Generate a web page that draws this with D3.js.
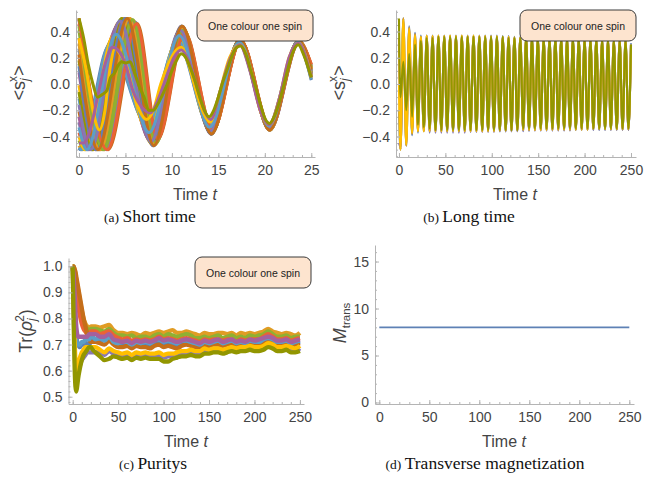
<!DOCTYPE html>
<html><head><meta charset="utf-8">
<script src="https://cdn.jsdelivr.net/npm/d3@7/dist/d3.min.js"></script>
<style>body{margin:0;background:#fff;} svg{display:block;}</style>
</head><body>
<svg id="chart" width="646" height="477"></svg>
<script>
// ---------- Panel (a): short time, turning points [t, <s_j^x>] per spin ----------
const shortSpin0  = [[0,-0.49],[0.15,-0.5],[3.3,0.30],[7.3,-0.30],[10.6,0.32],[14.0,-0.31],[17.2,0.31],[20.4,-0.31],[23.5,0.31],[25,0.03]];
const shortSpin1  = [[0,-0.47],[0.35,-0.5],[3.5,0.33],[7.4,-0.33],[10.7,0.34],[14.0,-0.32],[17.2,0.31],[20.4,-0.32],[23.55,0.31],[25,0.04]];
const shortSpin2  = [[0,-0.43],[0.55,-0.5],[3.7,0.36],[7.5,-0.36],[10.7,0.36],[14.05,-0.33],[17.2,0.32],[20.45,-0.32],[23.55,0.32],[25,0.05]];
const shortSpin3  = [[0,-0.37],[0.75,-0.5],[3.9,0.40],[7.55,-0.39],[10.8,0.38],[14.05,-0.34],[17.25,0.32],[20.45,-0.33],[23.55,0.32],[25,0.06]];
const shortSpin4  = [[0,-0.29],[0.95,-0.5],[4.1,0.44],[7.6,-0.42],[10.8,0.40],[14.1,-0.35],[17.25,0.33],[20.45,-0.33],[23.6,0.32],[25,0.07]];
const shortSpin5  = [[0,-0.21],[1.15,-0.5],[4.3,0.47],[7.7,-0.44],[10.9,0.41],[14.1,-0.36],[17.25,0.33],[20.5,-0.34],[23.6,0.33],[25,0.08]];
const shortSpin6  = [[0,-0.11],[1.35,-0.5],[4.5,0.49],[7.8,-0.45],[10.9,0.42],[14.15,-0.37],[17.3,0.33],[20.5,-0.34],[23.6,0.33],[25,0.09]];
const shortSpin7  = [[0,-0.01],[1.55,-0.5],[4.7,0.5],[7.85,-0.46],[11.0,0.43],[14.2,-0.37],[17.3,0.34],[20.5,-0.35],[23.6,0.33],[25,0.09]];
const shortSpin8  = [[0,0.09],[1.75,-0.5],[4.9,0.5],[7.95,-0.47],[11.0,0.44],[14.2,-0.38],[17.3,0.34],[20.5,-0.35],[23.6,0.33],[25,0.1]];
const shortSpin9  = [[0,0.18],[1.95,-0.5],[5.1,0.5],[8.0,-0.47],[11.05,0.44],[14.25,-0.38],[17.35,0.34],[20.55,-0.35],[23.65,0.33],[25,0.11]];
const shortSpin10 = [[0,0.27],[2.15,-0.5],[5.3,0.5],[8.1,-0.47],[11.1,0.44],[14.25,-0.38],[17.35,0.34],[20.55,-0.35],[23.65,0.33],[25,0.12]];
const shortSpin11 = [[0,0.35],[2.35,-0.5],[5.5,0.5],[8.2,-0.46],[11.15,0.43],[14.3,-0.37],[17.35,0.34],[20.55,-0.35],[23.65,0.33],[25,0.12]];
const shortSpin12 = [[0,0.41],[2.55,-0.5],[5.7,0.49],[8.25,-0.45],[11.2,0.42],[14.3,-0.37],[17.4,0.33],[20.55,-0.34],[23.65,0.33],[25,0.13]];
const shortSpin13 = [[0,0.46],[2.75,-0.5],[5.9,0.48],[8.35,-0.44],[11.25,0.41],[14.35,-0.36],[17.4,0.33],[20.6,-0.34],[23.7,0.33],[25,0.14]];
const shortSpin14 = [[0,0.49],[2.95,-0.5],[6.1,0.47],[8.4,-0.43],[11.3,0.40],[14.35,-0.35],[17.4,0.33],[20.6,-0.34],[23.7,0.32],[25,0.14]];
const shortSpin15 = [[0,0.5],[3.15,-0.5],[6.3,0.46],[8.5,-0.42],[11.4,0.39],[14.4,-0.35],[17.42,0.33],[20.6,-0.33],[23.7,0.32],[25,0.15]];
const shortSpin16 = [[0,-0.485],[0.25,-0.5],[3.4,0.31],[7.34,-0.31],[10.65,0.33],[13.99,-0.31],[17.19,0.31],[20.43,-0.31],[23.54,0.31],[25,0.035]];
const shortSpin17 = [[0,-0.4],[0.65,-0.5],[3.8,0.38],[7.5,-0.37],[10.75,0.37],[14.05,-0.33],[17.22,0.32],[20.45,-0.32],[23.56,0.32],[25,0.055]];
const shortSpin18 = [[0,-0.25],[1.05,-0.5],[4.2,0.45],[7.66,-0.43],[10.85,0.4],[14.11,-0.35],[17.25,0.33],[20.47,-0.33],[23.58,0.32],[25,0.07]];
const shortSpin19 = [[0,-0.06],[1.45,-0.5],[4.6,0.5],[7.82,-0.45],[10.95,0.42],[14.17,-0.37],[17.28,0.34],[20.49,-0.34],[23.59,0.33],[25,0.085]];
const shortSpin20 = [[0,0.135],[1.85,-0.5],[5.0,0.5],[7.98,-0.47],[11.05,0.44],[14.23,-0.38],[17.32,0.34],[20.51,-0.35],[23.61,0.33],[25,0.1]];
const shortSpin21 = [[0,0.31],[2.25,-0.5],[5.4,0.5],[8.14,-0.46],[11.15,0.43],[14.29,-0.37],[17.35,0.34],[20.53,-0.35],[23.62,0.33],[25,0.12]];
const shortSpin22 = [[0,0.44],[2.65,-0.5],[5.8,0.49],[8.3,-0.45],[11.25,0.41],[14.35,-0.36],[17.38,0.33],[20.55,-0.34],[23.64,0.33],[25,0.13]];
const shortSpin23 = [[0,0.5],[3.05,-0.5],[6.2,0.46],[8.46,-0.42],[11.35,0.39],[14.41,-0.35],[17.41,0.33],[20.57,-0.33],[23.66,0.32],[25,0.15]];
const shortSpin24 = [[0,-0.16],[1.25,-0.5],[4.4,0.48],[7.74,-0.44],[10.9,0.41],[14.14,-0.36],[17.27,0.33],[20.48,-0.34],[23.58,0.33],[25,0.08]];
const shortSpin25 = [[0,0.225],[2.05,-0.5],[5.2,0.5],[8.06,-0.47],[11.1,0.44],[14.26,-0.38],[17.33,0.34],[20.52,-0.35],[23.62,0.33],[25,0.11]];
const shortSpin26 = [[0,-0.33],[0.85,-0.5],[4.0,0.38],[7.55,-0.37],[10.8,0.37],[14.05,-0.33],[17.25,0.32],[20.45,-0.32],[23.55,0.32],[25,0.06]];
const shortSpin27 = [[0,0.35],[0.8,0.1],[1.5,-0.2],[2.2,-0.35],[2.8,-0.2],[3.3,0.1],[3.9,0.27],[4.5,0.22],[5.2,0.12],[5.8,-0.05],[6.5,-0.2],[7.3,-0.27],[8.0,-0.2],[8.8,0.0],[9.6,0.15],[10.5,0.26],[11.0,0.28],[11.8,0.15],[12.6,-0.05],[13.4,-0.22],[14.1,-0.29],[15.0,-0.1],[16.2,0.2],[17.3,0.3],[18.5,0.1],[19.5,-0.2],[20.5,-0.31],[21.6,-0.1],[22.6,0.2],[23.6,0.31],[25,0.06]];
const shortSpin28 = [[0,-0.45],[0.5,-0.45],[1.2,-0.35],[2.0,-0.1],[2.8,0.15],[3.6,0.28],[4.3,0.25],[5.0,0.15],[5.8,-0.05],[6.8,-0.18],[7.7,-0.22],[8.5,-0.12],[9.4,0.05],[10.2,0.2],[11.0,0.26],[11.8,0.18],[12.8,-0.05],[13.6,-0.22],[14.2,-0.27],[15.2,-0.05],[16.3,0.2],[17.3,0.3],[18.4,0.1],[19.5,-0.2],[20.5,-0.31],[21.6,-0.1],[22.6,0.2],[23.6,0.31],[25,0.05]];
const shortSpin29 = [[0,0.5],[0.5,0.35],[1.0,0.15],[1.5,0.0],[2.0,-0.1],[2.5,-0.08],[3.0,-0.05],[3.4,0.05],[3.8,0.08],[4.2,0.14],[4.6,0.17],[5.0,0.16],[5.5,0.17],[6.0,0.08],[6.5,-0.02],[7.0,-0.1],[7.5,-0.2],[8.0,-0.2],[8.5,-0.15],[9.0,-0.08],[9.5,0.0],[10.0,0.1],[10.5,0.18],[11.0,0.23],[11.5,0.2],[12.0,0.12],[12.5,0.02],[13.0,-0.1],[13.5,-0.2],[14.0,-0.25],[14.5,-0.2],[15.0,-0.1],[15.5,0.02],[16.0,0.12],[16.5,0.22],[17.0,0.28],[17.4,0.29],[18.0,0.22],[18.5,0.1],[19.0,-0.02],[19.5,-0.15],[20.0,-0.26],[20.5,-0.3],[21.0,-0.25],[21.5,-0.15],[22.0,-0.02],[22.5,0.12],[23.0,0.24],[23.6,0.3],[24.2,0.22],[25,0.05]];
const shortSpins = [shortSpin0,shortSpin1,shortSpin2,shortSpin3,shortSpin4,shortSpin5,shortSpin6,shortSpin7,shortSpin8,shortSpin9,
  shortSpin10,shortSpin11,shortSpin12,shortSpin13,shortSpin14,shortSpin15,shortSpin16,shortSpin17,shortSpin18,shortSpin19,
  shortSpin20,shortSpin21,shortSpin22,shortSpin23,shortSpin24,shortSpin25,shortSpin26,shortSpin27,shortSpin28,shortSpin29];

// ---------- Panel (b): long time, values at turning times ----------
const longTurnTimes = [0,1.6,4.7,7.85,11.0,14.15,17.3,20.45,23.6,26.75,
 29.9,33.05,36.2,39.35,42.5,45.65,48.8,51.95,55.1,58.25,
 61.4,64.55,67.7,70.85,74.0,77.15,80.3,83.45,86.6,89.75,
 92.9,96.05,99.2,102.35,105.5,108.65,111.8,114.95,118.1,121.25,
 124.4,127.55,130.7,133.85,137.0,140.15,143.3,146.45,149.6,152.75,
 155.9,159.05,162.2,165.35,168.5,171.65,174.8,177.95,181.1,184.25,
 187.4,190.55,193.7,196.85,200.0,203.15,206.3,209.45,212.6,215.75,
 218.9,222.05,225.2,228.35,231.5,234.65,237.8,240.95,244.1,247.25,250];
const longBlue = [-0.2,-0.5,0.5,-0.47,0.44,-0.39,0.39,-0.37,0.37,-0.36,
 0.37,-0.36,0.37,-0.36,0.37,-0.36,0.37,-0.36,0.37,-0.36,
 0.37,-0.36,0.37,-0.36,0.37,-0.36,0.37,-0.36,0.37,-0.36,
 0.37,-0.36,0.37,-0.36,0.37,-0.36,0.365,-0.36,0.365,-0.36,
 0.36,-0.36,0.36,-0.355,0.36,-0.355,0.355,-0.35,0.355,-0.35,
 0.35,-0.35,0.35,-0.35,0.35,-0.35,0.35,-0.35,0.35,-0.35,
 0.35,-0.35,0.345,-0.35,0.345,-0.35,0.345,-0.35,0.345,-0.35,
 0.34,-0.35,0.34,-0.35,0.34,-0.35,0.34,-0.35,0.34,-0.35,0.31];
const longOrange = [0.35,-0.5,0.5,-0.47,0.43,-0.38,0.38,-0.36,0.36,-0.36,
 0.365,-0.355,0.365,-0.355,0.365,-0.355,0.365,-0.355,0.365,-0.355,
 0.365,-0.355,0.365,-0.355,0.365,-0.355,0.365,-0.355,0.365,-0.355,
 0.365,-0.355,0.365,-0.355,0.36,-0.355,0.36,-0.355,0.36,-0.355,
 0.355,-0.35,0.355,-0.35,0.355,-0.35,0.35,-0.35,0.35,-0.35,
 0.345,-0.345,0.345,-0.345,0.345,-0.345,0.345,-0.345,0.345,-0.345,
 0.34,-0.345,0.34,-0.345,0.34,-0.345,0.34,-0.345,0.34,-0.345,
 0.34,-0.345,0.34,-0.345,0.335,-0.345,0.335,-0.345,0.335,-0.345,0.3];
const longYellow = [0.0,-0.5,0.49,-0.46,0.42,-0.37,0.37,-0.36,0.36,-0.36,
 0.37,-0.36,0.365,-0.36,0.37,-0.36,0.365,-0.36,0.37,-0.36,
 0.365,-0.36,0.37,-0.36,0.365,-0.36,0.37,-0.36,0.365,-0.36,
 0.365,-0.36,0.36,-0.36,0.365,-0.355,0.36,-0.355,0.36,-0.355,
 0.355,-0.355,0.355,-0.35,0.355,-0.35,0.35,-0.35,0.35,-0.35,
 0.35,-0.35,0.345,-0.35,0.345,-0.35,0.345,-0.35,0.345,-0.35,
 0.345,-0.35,0.34,-0.35,0.34,-0.35,0.34,-0.345,0.34,-0.345,
 0.34,-0.345,0.335,-0.345,0.335,-0.345,0.335,-0.345,0.335,-0.345,0.3];
const longPurple = [-0.45,-0.48,0.3,-0.25,0.27,-0.28,0.31,-0.33,0.34,-0.35,
 0.36,-0.37,0.36,-0.37,0.36,-0.37,0.36,-0.37,0.36,-0.37,
 0.36,-0.37,0.36,-0.37,0.36,-0.365,0.36,-0.365,0.36,-0.365,
 0.36,-0.365,0.355,-0.365,0.355,-0.36,0.355,-0.36,0.355,-0.36,
 0.35,-0.36,0.35,-0.36,0.35,-0.355,0.35,-0.355,0.345,-0.355,
 0.345,-0.355,0.345,-0.355,0.345,-0.355,0.34,-0.355,0.34,-0.355,
 0.34,-0.35,0.34,-0.35,0.335,-0.35,0.335,-0.35,0.335,-0.35,
 0.335,-0.35,0.335,-0.35,0.33,-0.35,0.33,-0.35,0.33,-0.35,0.29];
const longOlive = [0.5,-0.1,0.17,-0.2,0.23,-0.25,0.3,-0.31,0.33,-0.33,
 0.35,-0.34,0.35,-0.35,0.36,-0.35,0.36,-0.35,0.36,-0.35,
 0.36,-0.35,0.36,-0.35,0.36,-0.35,0.36,-0.35,0.36,-0.35,
 0.36,-0.35,0.36,-0.35,0.36,-0.35,0.36,-0.35,0.35,-0.35,
 0.35,-0.35,0.35,-0.34,0.35,-0.34,0.35,-0.34,0.34,-0.34,
 0.34,-0.34,0.34,-0.34,0.34,-0.34,0.34,-0.34,0.34,-0.34,
 0.34,-0.34,0.34,-0.34,0.335,-0.34,0.335,-0.34,0.335,-0.34,
 0.33,-0.34,0.33,-0.34,0.33,-0.34,0.33,-0.34,0.33,-0.34,0.3];

// ---------- Panel (c): purities ----------
const purityTimes = [0,1,2,3,4,5,6,8,10,12,14,16,18,20,22,25,
 30,35,40,45,50, 55,60,65,70,75, 80,85,90,95,100, 105,110,115,120,125, 130,135,140,145,150,
 155,160,165,170,175, 180,185,190,195,200, 205,210,215,220,225, 230,235,240,245,250];
const purityBlue = [1.0,0.95,0.88,0.8,0.74,0.71,0.7,0.69,0.7,0.7,0.71,0.7,0.7,0.71,0.72,0.71,
 0.715,0.72,0.725,0.705,0.7, 0.7,0.705,0.695,0.705,0.7, 0.7,0.695,0.705,0.71,0.7, 0.705,0.7,0.695,0.705,0.71, 0.705,0.7,0.695,0.705,0.7,
 0.705,0.71,0.7,0.705,0.71, 0.7,0.705,0.7,0.71,0.705, 0.705,0.715,0.72,0.715,0.705, 0.705,0.71,0.7,0.705,0.71];
const purityOrange = [1.0,1.0,0.99,0.97,0.95,0.93,0.91,0.87,0.83,0.8,0.78,0.77,0.76,0.77,0.77,0.77,
 0.765,0.77,0.775,0.755,0.745, 0.745,0.74,0.745,0.74,0.735, 0.745,0.74,0.745,0.75,0.745, 0.75,0.755,0.745,0.745,0.75, 0.745,0.74,0.735,0.745,0.74,
 0.74,0.745,0.745,0.74,0.745, 0.735,0.745,0.74,0.745,0.74, 0.745,0.75,0.76,0.75,0.745, 0.74,0.745,0.74,0.735,0.745];
const purityGreen = [1.0,1.0,0.98,0.96,0.93,0.9,0.88,0.84,0.81,0.78,0.77,0.76,0.75,0.76,0.76,0.76,
 0.755,0.75,0.76,0.745,0.735, 0.735,0.73,0.735,0.725,0.73, 0.73,0.725,0.735,0.74,0.73, 0.74,0.735,0.73,0.735,0.74, 0.735,0.725,0.725,0.73,0.725,
 0.73,0.735,0.725,0.73,0.735, 0.725,0.73,0.725,0.735,0.73, 0.735,0.74,0.75,0.74,0.73, 0.73,0.735,0.725,0.73,0.73];
const purityRed = [1.0,0.99,0.97,0.94,0.91,0.88,0.85,0.81,0.78,0.76,0.75,0.74,0.74,0.75,0.75,0.75,
 0.74,0.745,0.75,0.735,0.725, 0.72,0.725,0.715,0.72,0.715, 0.72,0.715,0.72,0.73,0.72, 0.725,0.72,0.715,0.72,0.725, 0.72,0.715,0.71,0.72,0.715,
 0.72,0.72,0.715,0.72,0.72, 0.71,0.72,0.715,0.72,0.72, 0.72,0.73,0.74,0.73,0.72, 0.72,0.725,0.715,0.72,0.725];
const purityPurple = [1.0,0.85,0.7,0.6,0.56,0.57,0.59,0.62,0.64,0.65,0.66,0.67,0.67,0.67,0.67,0.67,
 0.67,0.66,0.675,0.665,0.66, 0.655,0.66,0.65,0.66,0.655, 0.66,0.655,0.655,0.66,0.65, 0.655,0.655,0.66,0.665,0.665, 0.67,0.665,0.665,0.675,0.67,
 0.675,0.675,0.67,0.675,0.68, 0.675,0.68,0.68,0.685,0.68, 0.68,0.685,0.695,0.69,0.68, 0.68,0.685,0.68,0.675,0.685];
const purityBrown = [1.0,1.0,0.99,0.98,0.96,0.94,0.92,0.88,0.84,0.8,0.77,0.74,0.72,0.71,0.71,0.71,
 0.705,0.7,0.715,0.7,0.69, 0.69,0.695,0.685,0.695,0.69, 0.69,0.685,0.695,0.7,0.69, 0.695,0.69,0.685,0.695,0.7, 0.695,0.69,0.685,0.695,0.695,
 0.7,0.7,0.695,0.7,0.705, 0.695,0.7,0.695,0.705,0.7, 0.7,0.705,0.715,0.71,0.7, 0.7,0.705,0.695,0.7,0.705];
const purityLightBlue = [1.0,0.93,0.84,0.76,0.72,0.7,0.7,0.7,0.71,0.71,0.72,0.72,0.72,0.73,0.73,0.72,
 0.725,0.715,0.73,0.71,0.705, 0.71,0.71,0.7,0.71,0.705, 0.71,0.705,0.715,0.72,0.71, 0.715,0.71,0.705,0.715,0.715, 0.71,0.705,0.7,0.71,0.705,
 0.71,0.715,0.705,0.71,0.715, 0.705,0.71,0.705,0.715,0.71, 0.71,0.72,0.725,0.72,0.71, 0.71,0.715,0.705,0.71,0.715];
const purityYellow = [1.0,0.88,0.74,0.64,0.6,0.61,0.63,0.65,0.67,0.68,0.69,0.69,0.69,0.69,0.69,0.69,
 0.68,0.67,0.685,0.675,0.67, 0.665,0.67,0.66,0.67,0.665, 0.67,0.665,0.665,0.67,0.66, 0.665,0.665,0.67,0.675,0.675, 0.68,0.675,0.675,0.685,0.68,
 0.685,0.685,0.68,0.685,0.69, 0.685,0.69,0.69,0.695,0.69, 0.69,0.695,0.705,0.7,0.69, 0.69,0.695,0.69,0.685,0.695];
const purityMagenta = [1.0,0.96,0.9,0.83,0.77,0.74,0.73,0.73,0.73,0.73,0.73,0.73,0.74,0.74,0.74,0.74,
 0.73,0.73,0.74,0.72,0.715, 0.71,0.715,0.705,0.715,0.71, 0.715,0.71,0.715,0.725,0.715, 0.72,0.715,0.71,0.715,0.72, 0.715,0.71,0.705,0.715,0.71,
 0.715,0.72,0.71,0.715,0.72, 0.71,0.715,0.71,0.72,0.715, 0.72,0.725,0.73,0.725,0.715, 0.715,0.72,0.71,0.715,0.72];
const purityOlive = [1.0,0.8,0.63,0.54,0.52,0.54,0.57,0.61,0.64,0.66,0.67,0.68,0.69,0.69,0.68,0.67,
 0.655,0.64,0.645,0.655,0.65, 0.645,0.65,0.64,0.65,0.645, 0.65,0.645,0.645,0.645,0.635, 0.635,0.645,0.65,0.655,0.655, 0.66,0.655,0.655,0.665,0.665,
 0.67,0.67,0.665,0.67,0.675, 0.67,0.675,0.675,0.68,0.675, 0.675,0.68,0.69,0.685,0.675, 0.675,0.68,0.67,0.67,0.675];
const puritySeries = [purityBlue,purityOrange,purityGreen,purityRed,purityPurple,purityBrown,purityLightBlue,purityYellow,purityMagenta,purityOlive];

// ---------- Panel (d): transverse magnetization ----------
const mTransTimes = [0,50,100,150,200,250];
const mTransValues = [8,8,8,8,8,8];

// ---------- Tick labels ----------
const shortXTicks = [0,5,10,15,20,25];
const longXTicks = [0,50,100,150,200,250];
const spinYTicks = [-0.4,-0.2,0.0,0.2,0.4];
const purityYTicks = [0.5,0.6,0.7,0.8,0.9,1.0];
const mTransYTicks = [0,5,10,15];
const legendText = "One colour one spin";

// ---------- Drawing ----------
const palette = ["#5E81B5","#E19C24","#8FB032","#EB6235","#8778B3","#C56E1A","#5D9EC7","#FFBF00","#A5609D","#929600"];
const svg = d3.select("#chart");
const AX = "#b4b4b4", TXT = "#444";
const sans = "'Liberation Sans', Arial, sans-serif";
const serif = "'Liberation Serif', 'Times New Roman', serif";

function range(a,b,s){const r=[];for(let v=a;v<=b+1e-9;v+=s)r.push(+v.toFixed(4));return r;}

function axes(x, y, xt, xm, yt, ym, yfmt, xfmt){
  const yb = y.range()[0], xl = x.range()[0];
  const g = svg.append("g");
  const gxm = g.append("g").attr("transform",`translate(0,${yb})`)
    .call(d3.axisBottom(x).tickValues(xm).tickSizeInner(-2).tickSizeOuter(0).tickFormat(""));
  gxm.select(".domain").remove();
  const gym = g.append("g").attr("transform",`translate(${xl},0)`)
    .call(d3.axisLeft(y).tickValues(ym).tickSizeInner(-2).tickSizeOuter(0).tickFormat(""));
  gym.select(".domain").remove();
  const gx = g.append("g").attr("transform",`translate(0,${yb})`)
    .call(d3.axisBottom(x).tickValues(xt).tickSizeInner(-4).tickSizeOuter(0).tickPadding(8).tickFormat(xfmt));
  const gy = g.append("g").attr("transform",`translate(${xl},0)`)
    .call(d3.axisLeft(y).tickValues(yt).tickSizeInner(-4).tickSizeOuter(0).tickPadding(6).tickFormat(yfmt));
  g.selectAll("path.domain").attr("stroke",AX).attr("stroke-width",1);
  g.selectAll(".tick line").attr("stroke",AX).attr("stroke-width",1);
  g.selectAll(".tick text").attr("fill",TXT).style("font-family",sans).style("font-size","14px");
}

const spinFmt = d => d===0 ? "0.0" : (d<0?"\u2212":"") + Math.abs(d).toFixed(1);
const intFmt = d3.format("d");

function lineGen(x,y){return d3.line().x(d=>x(d[0])).y(d=>y(d[1])).curve(d3.curveMonotoneX);}

function legend(x0,y0){
  svg.append("rect").attr("x",x0).attr("y",y0).attr("width",116).attr("height",31).attr("rx",7)
    .attr("fill","#fde4cf").attr("stroke","#3a3a3a").attr("stroke-width",1);
  svg.append("text").attr("x",x0+58).attr("y",y0+19.5).attr("text-anchor","middle")
    .style("font-family",sans).style("font-size","10.5px").attr("fill","#222").text(legendText);
}

function timeLabel(cx,by){
  const t = svg.append("text").attr("x",cx).attr("y",by).attr("text-anchor","middle")
    .style("font-family",sans).style("font-size","16px").attr("fill",TXT);
  t.append("tspan").text("Time ");
  t.append("tspan").style("font-style","italic").text("t");
}

function caption(cx,by,tag,txt){
  const t = svg.append("text").attr("x",cx).attr("y",by).attr("text-anchor","middle")
    .style("font-family",serif).attr("fill","#111");
  t.append("tspan").style("font-size","13.5px").text(tag+" ");
  t.append("tspan").style("font-size","17.5px").text(txt);
}

function spinYLabel(bx,cy){
  const t = svg.append("text").attr("transform",`translate(${bx},${cy}) rotate(-90)`).attr("text-anchor","middle")
    .style("font-family",sans).style("font-size","18px").attr("fill",TXT);
  t.append("tspan").text("<s");
  t.append("tspan").style("font-size","12px").style("font-style","italic").attr("dy",4).text("j");
  t.append("tspan").style("font-size","12px").attr("dx",-3.5).attr("dy",-12).text("x");
  t.append("tspan").attr("dy",8).text(">");
}

// ----- (a) -----
{
  const x = d3.scaleLinear().domain([-0.32,25.4]).range([76,315]);
  const y = d3.scaleLinear().domain([-0.556,0.564]).range([157,10]);
  const lg = lineGen(x,y);
  svg.append("g").selectAll("path").data(shortSpins).join("path")
    .attr("d",lg).attr("fill","none").attr("stroke",(d,i)=>palette[i%10])
    .attr("stroke-width",3).attr("stroke-linejoin","round");
  axes(x,y,shortXTicks,range(0,25,1),spinYTicks,range(-0.55,0.55,0.05),spinFmt,intFmt);
  spinYLabel(25,83);
  timeLabel(195,200);
  caption(150,221.5,"(a)","Short time");
  legend(197,10);
}

// ----- (b) -----
{
  const x = d3.scaleLinear().domain([-3.2,255.4]).range([396,636]);
  const y = d3.scaleLinear().domain([-0.556,0.564]).range([157,10]);
  const lg = lineGen(x,y);
  const series = [[longBlue,0],[longOrange,1],[longPurple,4],[longYellow,7],[longOlive,9]];
  svg.append("g").selectAll("path").data(series).join("path")
    .attr("d",d=>lg(d3.zip(longTurnTimes,d[0])))
    .attr("fill","none").attr("stroke",d=>palette[d[1]])
    .attr("stroke-width",2.1).attr("stroke-linejoin","round");
  axes(x,y,longXTicks,range(0,250,10),spinYTicks,range(-0.55,0.55,0.05),spinFmt,intFmt);
  spinYLabel(345,83);
  timeLabel(515,200);
  caption(469,221.5,"(b)","Long time");
  legend(520,10);
}

// ----- (c) -----
{
  const x = d3.scaleLinear().domain([-4.6,254.5]).range([68.5,304]);
  const y = d3.scaleLinear().domain([0.472,1.032]).range([404,258]);
  const lg = lineGen(x,y);
  svg.append("g").selectAll("path").data(puritySeries).join("path")
    .attr("d",d=>lg(d3.zip(purityTimes,d)))
    .attr("fill","none").attr("stroke",(d,i)=>palette[i%10])
    .attr("stroke-width",4.3).attr("stroke-linejoin","round");
  axes(x,y,longXTicks,range(0,250,10),purityYTicks,range(0.48,1.02,0.02),d=>d.toFixed(1),intFmt);
  const t = svg.append("text").attr("transform","translate(32,331) rotate(-90)").attr("text-anchor","middle")
    .style("font-family",sans).style("font-size","17.5px").attr("fill",TXT);
  t.append("tspan").text("Tr(");
  t.append("tspan").style("font-style","italic").text("\u03c1");
  t.append("tspan").style("font-size","12px").style("font-style","italic").attr("dy",4).text("j");
  t.append("tspan").style("font-size","12px").attr("dx",-3.5).attr("dy",-12).text("2");
  t.append("tspan").attr("dy",8).text(")");
  timeLabel(186,447);
  caption(153,469,"(c)","Puritys");
  legend(195,257);
}

// ----- (d) -----
{
  const x = d3.scaleLinear().domain([-4.3,254.7]).range([375,634]);
  const y = d3.scaleLinear().domain([-0.16,16.76]).range([404,245]);
  const lg = d3.line().x(d=>x(d[0])).y(d=>y(d[1]));
  svg.append("path").attr("d",lg(d3.zip(mTransTimes,mTransValues)))
    .attr("fill","none").attr("stroke","#5E81B5").attr("stroke-width",1.8);
  axes(x,y,longXTicks,range(0,250,10),mTransYTicks,range(0,16,1),intFmt,intFmt);
  const t = svg.append("text").attr("transform","translate(346,323) rotate(-90)").attr("text-anchor","middle")
    .style("font-family",sans).style("font-size","16px").attr("fill",TXT);
  t.append("tspan").style("font-style","italic").style("font-size","18px").text("M");
  t.append("tspan").style("font-size","11.5px").attr("dy",4).text("trans");
  timeLabel(504,447);
  caption(485,469,"(d)","Transverse magnetization");
}
</script>
</body></html>
